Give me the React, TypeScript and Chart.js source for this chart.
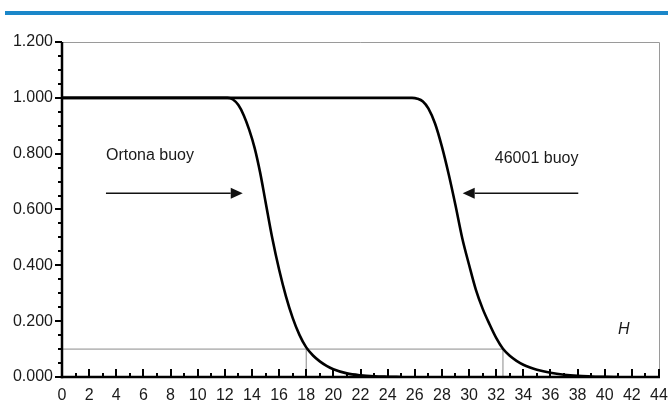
import React, { useEffect, useRef } from "react";
import { Chart, registerables } from "chart.js";

Chart.register(...registerables);

// ---- Data ----
const ortonaH = [0, 12, 12.2, 12.6, 13, 13.4, 13.8, 14.2, 14.6, 15, 15.5, 16, 16.5, 17, 17.5, 18, 18.5, 19, 19.5, 20, 21, 22, 23, 24, 25];
const ortonaP = [1, 1, 1, 0.994, 0.974, 0.937, 0.885, 0.82, 0.733, 0.628, 0.497, 0.385, 0.29, 0.212, 0.151, 0.106, 0.077, 0.056, 0.04, 0.028, 0.013, 0.006, 0.0025, 0.001, 0];

const buoy46001H = [0, 25.5, 25.8, 26.2, 26.6, 27, 27.5, 28, 28.5, 29, 29.5, 30, 30.5, 31, 31.5, 32, 32.5, 33, 33.5, 34, 34.5, 35, 36, 37, 38, 39, 40, 41];
const buoy46001P = [1, 1, 1, 0.997, 0.987, 0.962, 0.907, 0.825, 0.726, 0.615, 0.497, 0.402, 0.313, 0.245, 0.19, 0.14, 0.101, 0.076, 0.058, 0.044, 0.034, 0.026, 0.015, 0.008, 0.004, 0.002, 0.0005, 0];

const refLevel = 0.1;
const refCrossings = [18, 32.5];

const xTickStep = 2;
const xMinorStep = 1;
const yTickStep = 0.2;
const yMinorStep = 0.05;
const xMin = 0, xMax = 44, yMin = 0, yMax = 1.2;

// annotations (data coordinates)
const labelTexts = ["Ortona buoy", "46001 buoy"];
const labelX = [3.24, 31.9];
const labelY = [0.777, 0.766];
const axisLabel = "H";
const axisLabelX = 41.4;
const axisLabelY = 0.154;

// arrows: from -> to (tip)
const arrowFromX = [3.24, 38.05];
const arrowToX = [13.32, 29.53];
const arrowY = [0.658, 0.658];

const FONT = '"Liberation Sans", Arial, sans-serif';

const pts = (xs: number[], ys: number[]) => xs.map((x, i) => ({ x, y: ys[i] }));

const decorPlugin = {
  id: "decor",
  beforeDraw(chart: any) {
    const ctx = chart.ctx;
    ctx.save();
    ctx.fillStyle = "#fff";
    ctx.fillRect(0, 0, chart.width, chart.height);
    ctx.fillStyle = "#1b87c9";
    ctx.fillRect(5, 11, chart.width - 5, 4);
    const { left, right, top, bottom } = chart.chartArea;
    ctx.strokeStyle = "#9a9a9a";
    ctx.lineWidth = 1;
    ctx.beginPath();
    ctx.moveTo(left, top + 0.5);
    ctx.lineTo(right + 0.5, top + 0.5);
    ctx.lineTo(right + 0.5, bottom);
    ctx.stroke();
    ctx.restore();
  },
  afterDatasetsDraw(chart: any) {
    const ctx = chart.ctx;
    const xs = chart.scales.x;
    const ys = chart.scales.y;
    const { left, right, top, bottom } = chart.chartArea;
    ctx.save();
    ctx.strokeStyle = "#000";
    ctx.lineCap = "butt";
    // y axis
    ctx.lineWidth = 2.5;
    ctx.beginPath();
    ctx.moveTo(left, top);
    ctx.lineTo(left, bottom + 1.2);
    ctx.stroke();
    ctx.lineWidth = 2;
    const nY = Math.round((yMax - yMin) / yMinorStep);
    for (let i = 0; i <= nY; i++) {
      const v = yMin + i * yMinorStep;
      const major = i % Math.round(yTickStep / yMinorStep) === 0;
      const py = Math.round(ys.getPixelForValue(v));
      ctx.beginPath();
      ctx.moveTo(left - (major ? 7 : 4), py);
      ctx.lineTo(left, py);
      ctx.stroke();
    }
    // x axis
    ctx.lineWidth = 2.5;
    ctx.beginPath();
    ctx.moveTo(left - 1.2, bottom);
    ctx.lineTo(right + 1, bottom);
    ctx.stroke();
    ctx.lineWidth = 2;
    const nX = Math.round((xMax - xMin) / xMinorStep);
    for (let i = 0; i <= nX; i++) {
      const v = xMin + i * xMinorStep;
      const major = i % Math.round(xTickStep / xMinorStep) === 0;
      const px = Math.round(xs.getPixelForValue(v));
      ctx.beginPath();
      ctx.moveTo(px, bottom - (major ? 8 : 4));
      ctx.lineTo(px, bottom + 1);
      ctx.stroke();
    }
    // texts
    ctx.fillStyle = "#1a1a1a";
    ctx.font = `16px ${FONT}`;
    ctx.textAlign = "left";
    ctx.textBaseline = "alphabetic";
    labelTexts.forEach((t, i) => {
      ctx.fillText(t, xs.getPixelForValue(labelX[i]), ys.getPixelForValue(labelY[i]));
    });
    ctx.font = `italic 16px ${FONT}`;
    ctx.textAlign = "center";
    ctx.fillText(axisLabel, xs.getPixelForValue(axisLabelX), ys.getPixelForValue(axisLabelY));
    // arrows
    ctx.strokeStyle = "#111";
    ctx.fillStyle = "#111";
    ctx.lineWidth = 1.6;
    arrowFromX.forEach((fx, i) => {
      const x0 = xs.getPixelForValue(fx);
      const x1 = xs.getPixelForValue(arrowToX[i]);
      const y = ys.getPixelForValue(arrowY[i]);
      const dir = Math.sign(x1 - x0);
      const len = 12, hw = 5.5;
      ctx.beginPath();
      ctx.moveTo(x0, y);
      ctx.lineTo(x1 - dir * len, y);
      ctx.stroke();
      ctx.beginPath();
      ctx.moveTo(x1, y);
      ctx.lineTo(x1 - dir * len, y - hw);
      ctx.lineTo(x1 - dir * len, y + hw);
      ctx.closePath();
      ctx.fill();
    });
    ctx.restore();
  },
};

export default function App() {
  const ref = useRef<HTMLCanvasElement | null>(null);
  useEffect(() => {
    if (!ref.current) return;
    const lineStyle = {
      borderColor: "#000",
      borderWidth: 2.6,
      pointRadius: 0,
      fill: false,
      cubicInterpolationMode: "monotone" as const,
    };
    const refStyle = {
      borderColor: "#8a8a8a",
      borderWidth: 1,
      pointRadius: 0,
      fill: false,
      tension: 0,
    };
    const chart = new Chart(ref.current, {
      type: "line",
      data: {
        datasets: [
          { label: "Ortona buoy", data: pts(ortonaH, ortonaP), ...lineStyle },
          { label: "46001 buoy", data: pts(buoy46001H, buoy46001P), ...lineStyle },
          { label: "ref", data: [{ x: xMin, y: refLevel }, { x: refCrossings[1], y: refLevel }], ...refStyle },
          { label: "ref1", data: [{ x: refCrossings[0], y: yMin }, { x: refCrossings[0], y: refLevel }], ...refStyle },
          { label: "ref2", data: [{ x: refCrossings[1], y: yMin }, { x: refCrossings[1], y: refLevel }], ...refStyle },
        ],
      },
      options: {
        animation: false,
        responsive: false,
        maintainAspectRatio: false,
        layout: { padding: { left: 0, right: 9, top: 42, bottom: 0 } },
        plugins: { legend: { display: false }, tooltip: { enabled: false } },
        scales: {
          x: {
            type: "linear",
            min: xMin,
            max: xMax,
            grid: { display: false, drawTicks: false },
            border: { display: false },
            ticks: {
              stepSize: xTickStep,
              autoSkip: false,
              maxRotation: 0,
              padding: 9,
              color: "#1a1a1a",
              font: { family: FONT, size: 16 },
            },
            afterFit: (s: any) => { s.height = 26; s.paddingRight = 0; s.paddingLeft = 0; },
          },
          y: {
            min: yMin,
            max: yMax,
            grid: { display: false, drawTicks: false },
            border: { display: false },
            ticks: {
              stepSize: yTickStep,
              padding: 9,
              color: "#1a1a1a",
              font: { family: FONT, size: 16 },
              callback: (v: any) => Number(v).toFixed(3),
            },
            afterFit: (s: any) => { s.width = 62; s.paddingTop = 0; s.paddingBottom = 0; },
          },
        },
      },
      plugins: [decorPlugin],
    });
    return () => chart.destroy();
  }, []);
  return (
    <div style={{ position: "fixed", left: 0, top: 0, width: 668, height: 403, background: "#fff" }}>
      <canvas ref={ref} width={668} height={403} style={{ display: "block" }} />
    </div>
  );
}
